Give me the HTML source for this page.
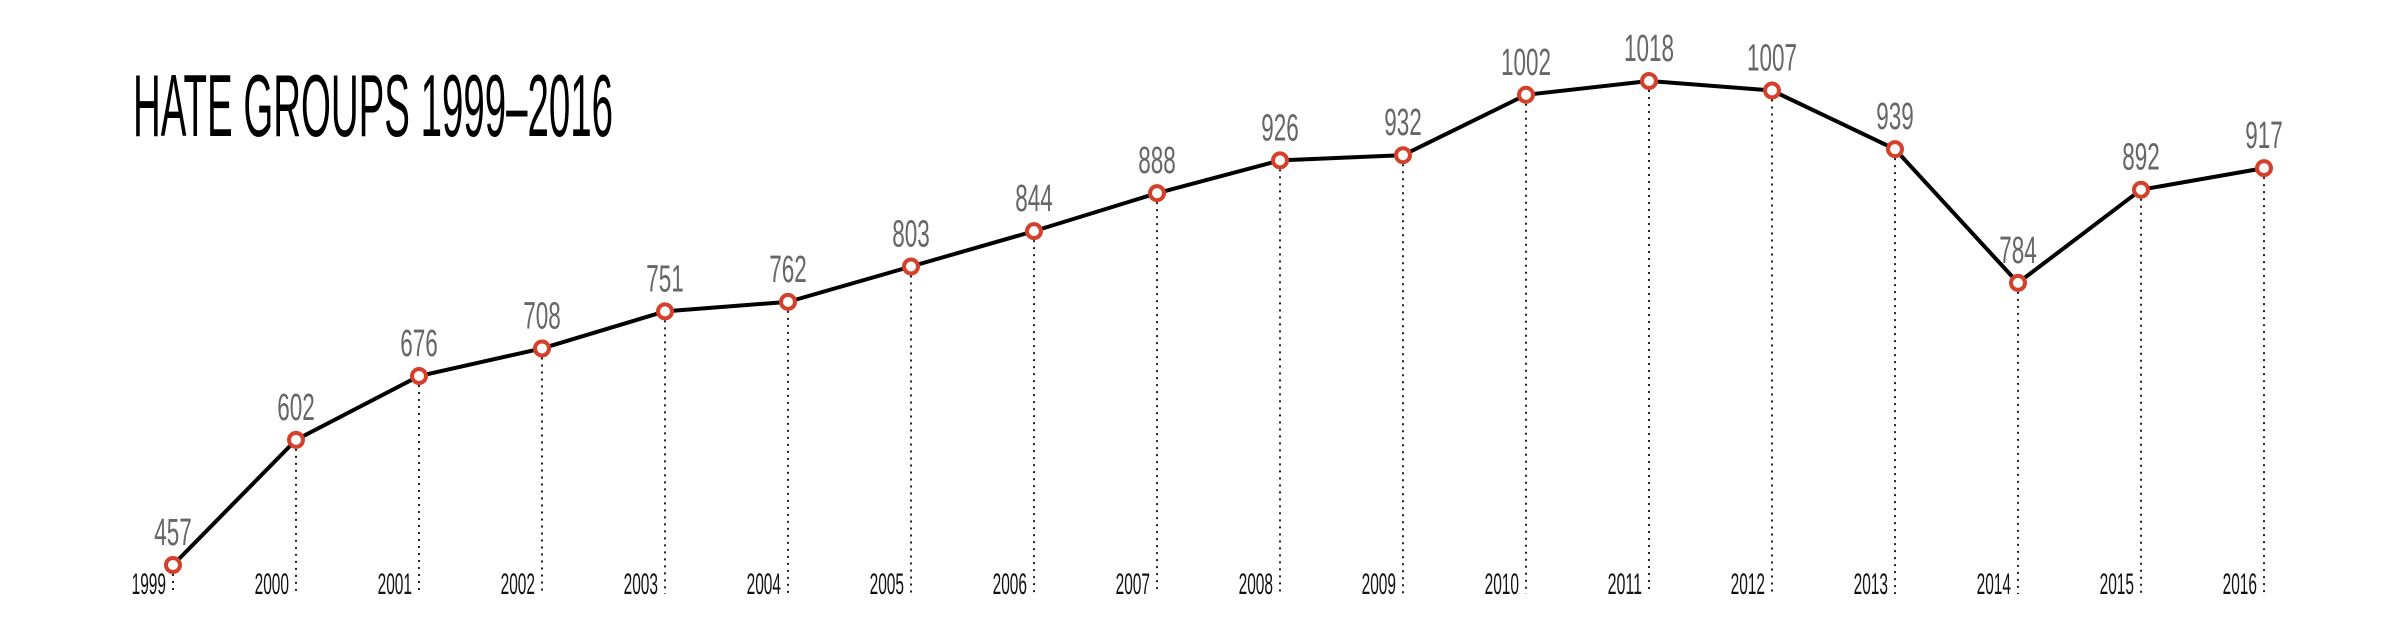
<!DOCTYPE html>
<html><head><meta charset="utf-8"><style>
html,body{margin:0;padding:0;background:#fff;}
svg{display:block;}
</style></head><body>
<svg id="chart" width="2400" height="642" viewBox="0 0 2400 642" xmlns="http://www.w3.org/2000/svg">
<text x="133" y="136" font-family="Liberation Sans, sans-serif" font-size="88" fill="#000" textLength="480" lengthAdjust="spacingAndGlyphs">HATE GROUPS 1999–2016</text>
<g id="grid"></g><g id="line"></g><g id="marks"></g><g id="labels"></g>
</svg>
<script>
const years = [1999,2000,2001,2002,2003,2004,2005,2006,2007,2008,2009,2010,2011,2012,2013,2014,2015,2016];
const counts = [457,602,676,708,751,762,803,844,888,926,932,1002,1018,1007,939,784,892,917];
const NS = 'http://www.w3.org/2000/svg';
function xPos(i){ return 173 + i * 123; }
function yPos(v){ return 565 - (v - 457) * (484 / 561); }
const grid = document.getElementById('grid');
const lineG = document.getElementById('line');
const marks = document.getElementById('marks');
const labels = document.getElementById('labels');
let d = '';
years.forEach((yr, i) => {
  const x = xPos(i), y = yPos(counts[i]);
  d += (i ? 'L' : 'M') + x + ' ' + y + ' ';
  const gl = document.createElementNS(NS, 'line');
  
  
  gl.setAttribute('x1', x); gl.setAttribute('x2', x);
  gl.setAttribute('y1', y + 9); gl.setAttribute('y2', 594);
  gl.setAttribute('stroke', '#222'); gl.setAttribute('stroke-width', '2');
  gl.setAttribute('stroke-dasharray', '2 5');
  grid.appendChild(gl);
  const yl = document.createElementNS(NS, 'text');
  
  
  yl.setAttribute('x', x - 7); yl.setAttribute('y', 594);
  yl.setAttribute('text-anchor', 'end');
  yl.setAttribute('font-family', 'Liberation Sans, sans-serif');
  yl.setAttribute('font-size', '30');
  yl.setAttribute('fill', '#111');
  yl.setAttribute('textLength', String(yr).length * 8.6);
  yl.setAttribute('lengthAdjust', 'spacingAndGlyphs');
  yl.textContent = yr;
  labels.appendChild(yl);
  const vl = document.createElementNS(NS, 'text');
  
  
  vl.setAttribute('x', x); vl.setAttribute('y', y - 20);
  vl.setAttribute('text-anchor', 'middle');
  vl.setAttribute('font-family', 'Liberation Sans, sans-serif');
  vl.setAttribute('font-size', '38');
  vl.setAttribute('fill', '#666');
  vl.setAttribute('textLength', String(counts[i]).length * 12.5);
  vl.setAttribute('lengthAdjust', 'spacingAndGlyphs');
  vl.textContent = counts[i];
  labels.appendChild(vl);
});
const p = document.createElementNS(NS, 'path');


p.setAttribute('d', d);
p.setAttribute('fill', 'none'); p.setAttribute('stroke', '#000');
p.setAttribute('stroke-width', '4'); p.setAttribute('stroke-linejoin', 'round');
lineG.appendChild(p);
years.forEach((yr, i) => {
  const c = document.createElementNS(NS, 'circle');
  
  
  c.setAttribute('cx', xPos(i)); c.setAttribute('cy', yPos(counts[i]));
  c.setAttribute('r', '7');
  c.setAttribute('fill', '#fff'); c.setAttribute('stroke', '#d5402a');
  c.setAttribute('stroke-width', '4');
  marks.appendChild(c);
});
</script>
</body></html>
